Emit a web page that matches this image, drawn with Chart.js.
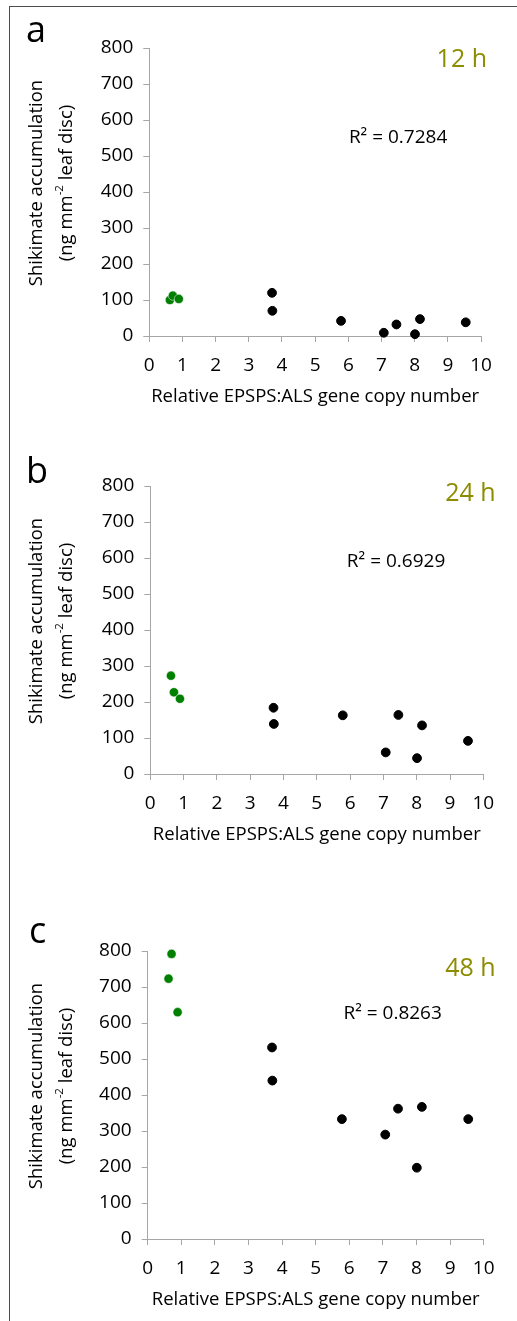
<!DOCTYPE html>
<html>
<head>
<meta charset="utf-8">
<script src="https://cdn.jsdelivr.net/npm/chart.js@4.4.1/dist/chart.umd.min.js"></script>
<style>
  body { margin: 0; background: #fff; }
  #page { position: relative; width: 517px; height: 1321px; overflow: hidden; background: #fff; }
  #frame { position: absolute; left: 9px; top: 6px; right: -5px; bottom: -5px;
           border-left: 1px solid #4d4d4d; border-top: 1px solid #4d4d4d; }
  canvas { position: absolute; left: 0; }
</style>
</head>
<body>
<div id="page">
  <div id="frame"></div>
  <canvas id="chartA" width="517" height="420" style="top:0px"></canvas>
  <canvas id="chartB" width="517" height="420" style="top:438px"></canvas>
  <canvas id="chartC" width="517" height="420" style="top:903px"></canvas>
</div>
<script>
// relative EPSPS:ALS copy number (x) for the susceptible (green) and resistant (black) plants
const susceptibleCopyNumber = [0.62, 0.71, 0.89];
const resistantCopyNumber = [3.70, 3.71, 5.78, 7.07, 7.45, 8.01, 8.16, 9.54];

// shikimate accumulation, ng mm-2 leaf disc
const susceptible12h = [100, 112, 103];
const resistant12h = [120, 70, 42, 9, 32, 5, 47, 38];
const susceptible24h = [273, 227, 209];
const resistant24h = [184, 139, 163, 60, 164, 44, 135, 92];
const susceptible48h = [723, 792, 630];
const resistant48h = [532, 440, 333, 290, 362, 198, 367, 333];

const panelLetters = ['a', 'b', 'c'];
const timeLabels = ['12 h', '24 h', '48 h'];
const rSquaredLabels = ['R\u00B2 = 0.7284', 'R\u00B2 = 0.6929', 'R\u00B2 = 0.8263'];

const xTickValues = [0, 1, 2, 3, 4, 5, 6, 7, 8, 9, 10];
const yTickValues = [0, 100, 200, 300, 400, 500, 600, 700, 800];

const FONT = '"Open Sans", "DejaVu Sans", sans-serif';
const axisGray = '#a6a6a6';

// draws the panel letter, time label, R² note and the two-line y title (with superscript)
const panelText = {
    id: 'panelText',
    afterDraw(chart, args, opts) {
        const { ctx, chartArea, scales } = chart;
        ctx.save();

        ctx.fillStyle = '#000';
        ctx.font = '36px ' + FONT;
        ctx.textAlign = 'left';
        ctx.textBaseline = 'alphabetic';
        ctx.fillText(opts.letter, opts.letterX, opts.letterY);

        ctx.fillStyle = '#8c8c00';
        ctx.font = '25px ' + FONT;
        ctx.textAlign = 'right';
        ctx.textBaseline = 'middle';
        ctx.fillText(opts.time, chartArea.right + opts.timeDx, chartArea.top + opts.timeDy);

        ctx.fillStyle = '#000';
        ctx.font = '19px ' + FONT;
        ctx.textAlign = 'center';
        ctx.fillText(opts.r2, scales.x.getPixelForValue(opts.r2At[0]), scales.y.getPixelForValue(opts.r2At[1]));

        // y title, rotated
        const cy = (chartArea.top + chartArea.bottom) / 2 + opts.titleDy;
        ctx.translate(0, cy);
        ctx.rotate(-Math.PI / 2);
        ctx.font = '18.5px ' + FONT;
        ctx.fillText('Shikimate accumulation', 0, 36.7);

        const p1 = '(ng mm', sup = '-2', p3 = ' leaf disc)';
        ctx.font = '18.5px ' + FONT;
        const w1 = ctx.measureText(p1).width;
        const w3 = ctx.measureText(p3).width;
        ctx.font = '11.5px ' + FONT;
        const w2 = ctx.measureText(sup).width;
        const u = -(w1 + w2 + w3) / 2;
        ctx.textAlign = 'left';
        ctx.font = '18.5px ' + FONT;
        ctx.fillText(p1, u, 66.7);
        ctx.font = '11.5px ' + FONT;
        ctx.fillText(sup, u + w1, 66.7 - 7);
        ctx.font = '18.5px ' + FONT;
        ctx.fillText(p3, u + w1 + w2, 66.7);

        ctx.restore();
    }
};

function toPoints(xs, ys) {
    return xs.map((x, i) => ({ x: x, y: ys[i] }));
}

function makeChart(canvasId, layout, green, black, i) {
    const tickFont = { family: FONT, size: 19 };
    const grid = { drawOnChartArea: false, drawTicks: true, tickLength: 6, color: axisGray, lineWidth: 1 };
    const border = { color: axisGray, width: 1 };

    return new Chart(document.getElementById(canvasId), {
        type: 'scatter',
        data: {
            datasets: [
                {
                    data: toPoints(susceptibleCopyNumber, green),
                    backgroundColor: '#008000', borderColor: '#ffffff', borderWidth: 0.5,
                    pointRadius: 4.6, clip: false
                },
                {
                    data: toPoints(resistantCopyNumber, black),
                    backgroundColor: '#000000', borderColor: '#000000', borderWidth: 1,
                    pointRadius: 4.4, clip: false
                }
            ]
        },
        options: {
            responsive: false,
            animation: false,
            events: [],
            layout: { padding: { top: 48, left: 0, right: 517 - layout.right, bottom: 0 } },
            plugins: {
                legend: { display: false },
                tooltip: { enabled: false },
                panelText: {
                    letter: panelLetters[i], letterX: layout.letterX, letterY: layout.letterY,
                    time: timeLabels[i], timeDx: layout.timeDx, timeDy: layout.timeDy,
                    r2: rSquaredLabels[i], r2At: layout.r2At, titleDy: -9
                }
            },
            scales: {
                x: {
                    type: 'linear', min: 0, max: 10,
                    afterBuildTicks: s => { s.ticks = xTickValues.map(v => ({ value: v })); },
                    afterFit: s => { s.height = 84; },
                    grid: grid, border: border,
                    ticks: { color: '#000', font: tickFont, padding: 12, maxRotation: 0, autoSkip: false },
                    title: {
                        display: true, text: 'Relative EPSPS:ALS gene copy number', color: '#000',
                        font: { family: FONT, size: 18.5 }, padding: { top: 0, bottom: 12 }
                    }
                },
                y: {
                    type: 'linear', min: 0, max: 800,
                    afterBuildTicks: s => { s.ticks = yTickValues.map(v => ({ value: v })); },
                    afterFit: s => { s.width = layout.left; },
                    grid: grid, border: border,
                    ticks: { color: '#000', font: tickFont, padding: 10, autoSkip: false }
                }
            }
        },
        plugins: [panelText]
    });
}

makeChart('chartA', { left: 149.3, right: 481, letterX: 26, letterY: 41.7, timeDx: 6, timeDy: 12, r2At: [7.5, 550] },
    susceptible12h, resistant12h, 0);
makeChart('chartB', { left: 150.3, right: 483.3, letterX: 26, letterY: 44.7, timeDx: 12.4, timeDy: 7.7, r2At: [7.38, 590] },
    susceptible24h, resistant24h, 1);
makeChart('chartC', { left: 147.7, right: 483.7, letterX: 29, letterY: 40.3, timeDx: 12, timeDy: 18.3, r2At: [7.29, 626] },
    susceptible48h, resistant48h, 2);
</script>
</body>
</html>
